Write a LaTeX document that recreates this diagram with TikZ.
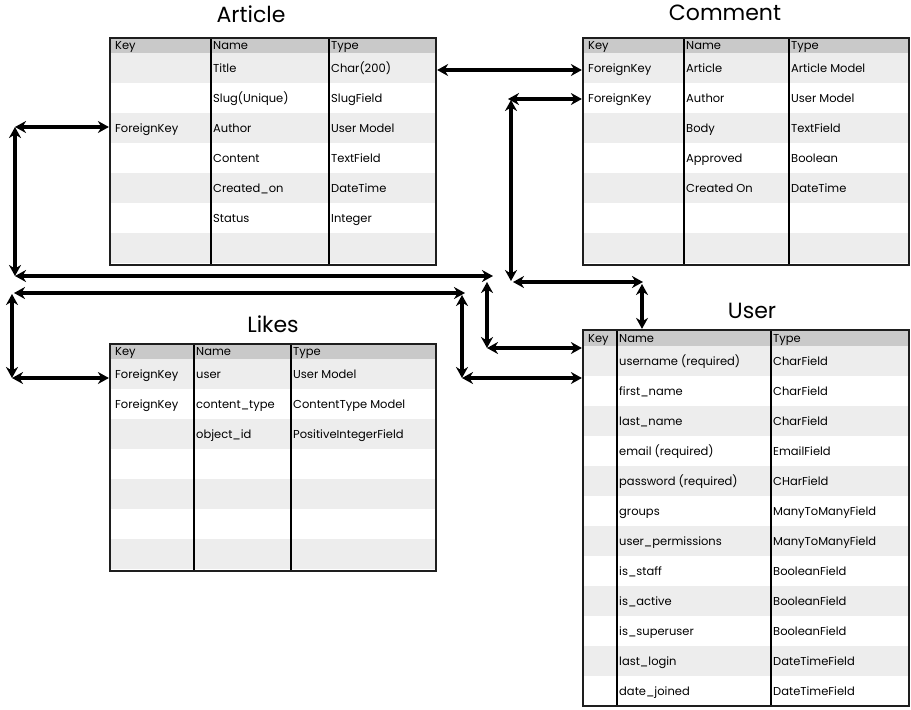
\documentclass[tikz,border=0pt]{standalone}
\usepackage{fontspec}
\setmainfont{Poppins}
\usetikzlibrary{arrows.meta}
\definecolor{hdrgray}{HTML}{C9C9C9}
\definecolor{stripegray}{HTML}{EDEDED}
\definecolor{boxline}{HTML}{1E1E1E}
\tikzset{
  hdrfill/.style={fill=hdrgray},
  stripefill/.style={fill=stripegray},
  coldiv/.style={draw=black, line width=2pt},
  tblbox/.style={draw=boxline, line width=2.2pt, rectangle, inner sep=0pt, fill=none},
  cell/.style={anchor=west, inner sep=0pt, font=\fontsize{11.5}{13}\selectfont, text height=8.5pt, text depth=2.5pt},
  ttl/.style={anchor=base, inner sep=0pt, font=\fontsize{22}{26}\selectfont},
  lk/.style={line width=3.2pt, {Stealth[length=11pt,width=12pt]}-{Stealth[length=11pt,width=12pt]}}
}
% #1 name, #2 L, #3 T, #4 R, #5 B, #6 header bottom, #7 col1, #8 col2, #9 nrows
\newcommand{\ertable}[9]{%
  \fill[hdrfill] (#2,#3) rectangle (#4,#6);
  \foreach \i in {1,3,...,#9} \fill[stripefill] (#2,{#6+30*(\i-1)}) rectangle (#4,{#6+30*\i});
  \draw[coldiv] (#7,#3) -- (#7,#5);
  \draw[coldiv] (#8,#3) -- (#8,#5);
  \node[tblbox, minimum width={#4-#2}, minimum height={#5-#3}] (#1) at ({(#2+#4)/2},{(#3+#5)/2}) {};
}
% #1 prefix, #2 kx, #3 nx, #4 tx, #5 header mid, #6 header bottom, #7 list
\newcommand{\errows}[7]{%
  \node[cell] (#1-hk) at (#2,#5) {Key};
  \node[cell] (#1-hn) at (#3,#5) {Name};
  \node[cell] (#1-ht) at (#4,#5) {Type};
  \foreach \k/\n/\t [count=\r] in {#7} {
    \node[cell] (#1-k\r) at (#2,{#6+30*\r-13.5}) {\k};
    \node[cell] (#1-n\r) at (#3,{#6+30*\r-13.5}) {\n};
    \node[cell] (#1-t\r) at (#4,{#6+30*\r-13.5}) {\t};
  }
}
\begin{document}
\begin{tikzpicture}[x=1pt,y=-1pt]
\useasboundingbox[fill=white] (0,0) rectangle (911,710);

% ---------- Article ----------
\node[ttl] (articleTitle) at (251,22) {Article};
\ertable{article}{110}{38}{436}{265}{53}{211}{329}{7}
\errows{art}{115}{213}{331}{46.5}{53}{%
  {}/Title/Char(200),
  {}/Slug(Unique)/SlugField,
  ForeignKey/Author/User Model,
  {}/Content/TextField,
  {}/Created\_on/DateTime,
  {}/Status/Integer}

% ---------- Comment ----------
\node[ttl] (commentTitle) at (725,20) {Comment};
\ertable{comment}{583}{38}{909}{265}{53}{684}{789}{7}
\errows{com}{588}{686}{791}{46.5}{53}{%
  ForeignKey/Article/Article Model,
  ForeignKey/Author/User Model,
  {}/Body/TextField,
  {}/Approved/Boolean,
  {}/Created On/DateTime}

% ---------- Likes ----------
\node[ttl] (likesTitle) at (273,332) {Likes};
\ertable{likes}{110}{344}{436}{571}{359}{194}{291}{7}
\errows{lik}{115}{196}{293}{352.5}{359}{%
  ForeignKey/user/User Model,
  ForeignKey/content\_type/ContentType Model,
  {}/object\_id/PositiveIntegerField}

% ---------- User ----------
\node[ttl] (userTitle) at (752,318) {User};
\ertable{user}{583}{330}{909}{706}{346}{617}{771}{12}
\errows{usr}{588}{619}{773}{339}{346}{%
  {}/username (required)/CharField,
  {}/first\_name/CharField,
  {}/last\_name/CharField,
  {}/email (required)/EmailField,
  {}/password (required)/CHarField,
  {}/groups/ManyToManyField,
  {}/user\_permissions/ManyToManyField,
  {}/is\_staff/BooleanField,
  {}/is\_active/BooleanField,
  {}/is\_superuser/BooleanField,
  {}/last\_login/DateTimeField,
  {}/date\_joined/DateTimeField}

% ---------- connector points ----------
% Article -> User
\coordinate (artAuthW) at (article.west |- 0,127);
\coordinate (p1) at (15,127);
\coordinate (p2) at (15,276);
\coordinate (p3) at (493,276);
\coordinate (p4) at (487,282);
\coordinate (p5) at (487,348);
\coordinate (userR1W) at (user.west |- 0,348);
% Likes -> User
\coordinate (q1) at (14,293);
\coordinate (q2) at (465,293);
\coordinate (q3) at (12,294);
\coordinate (q4) at (12,378);
\coordinate (likUserW) at (likes.west |- 0,378);
\coordinate (q5) at (462,295);
\coordinate (q6) at (462,378);
\coordinate (userR2W) at (user.west |- 0,378);
% Article <-> Comment
\coordinate (artR1E) at (article.east |- 0,70);
\coordinate (comR1W) at (comment.west |- 0,70);
% Comment -> User
\coordinate (comR2W) at (comment.west |- 0,99);
\coordinate (r1) at (508,99);
\coordinate (r2) at (511,100);
\coordinate (r3) at (511,281);
\coordinate (r4) at (513,282);
\coordinate (r5) at (643,282);
\coordinate (r6) at (642,284);
\coordinate (userTopN) at (user.north -| 642,0);

% ---------- connectors ----------
\draw[lk] (p1) -- (artAuthW);
\draw[lk] (p1) -- (p2);
\draw[lk] (p2) -- (p3);
\draw[lk] (p4) -- (p5);
\draw[lk] (p5) -- (userR1W);

\draw[lk] (q1) -- (q2);
\draw[lk] (q3) -- (q4);
\draw[lk] (q4) -- (likUserW);
\draw[lk] (q5) -- (q6);
\draw[lk] (q6) -- (userR2W);

\draw[lk] (artR1E) -- (comR1W);

\draw[lk] (r1) -- (comR2W);
\draw[lk] (r2) -- (r3);
\draw[lk] (r4) -- (r5);
\draw[lk] (r6) -- (userTopN);
\end{tikzpicture}
\end{document}
